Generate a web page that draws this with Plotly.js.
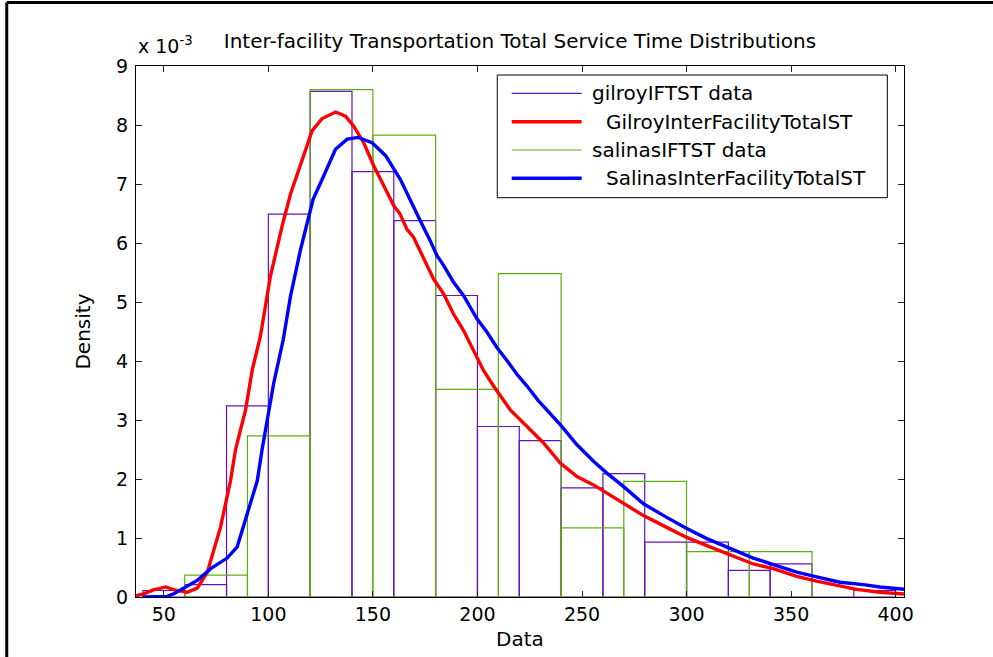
<!DOCTYPE html>
<html>
<head>
<meta charset="utf-8">
<script src="https://cdn.plot.ly/plotly-3.0.1.min.js"></script>
<style>html,body{margin:0;padding:0;background:#fff;}#chart{width:993px;height:657px;}</style>
</head>
<body>
<div id="chart"></div>
<script>
// Histogram bins (density in units of 1e-3)
var gilroyBinCenters = [50,70,90,110,130,150,170,190,210,230,250,270,290,310,330,350,370,390];
var gilroyBinWidth = 20;
var gilroyDensity = [0.11,0.21,3.24,6.49,8.57,7.21,6.38,5.11,2.89,2.65,1.85,2.09,0.93,0.93,0.45,0.56,0,0.11];

var salinasBinCenters = [75,105,135,165,195,225,255,285,315,345];
var salinasBinWidth = 30;
var salinasDensity = [0.37,2.73,8.60,7.83,3.52,5.48,1.17,1.96,0.77,0.77];

// Fitted density curves (units of 1e-3)
var gilroyFitX = [36.7,40,45,50.9,55,61.2,66,70.8,77.1,81.9,84.3,89.1,92.3,96.2,101,106.6,110.6,115.4,120.9,125.7,132.2,136.9,140.8,145.6,150.4,155.2,160,163,166.3,169.4,174.2,179,183.8,188.5,193.3,198.1,202.9,207.6,211,215.7,223.7,231.6,239.6,247.6,255.5,261.9,269.9,279.4,290.5,300.1,309.7,320.8,331.9,341.5,352.7,362.2,373.4,381.3,392.5,404];
var gilroyFitY = [0.02,0.05,0.12,0.17,0.12,0.08,0.15,0.42,1.18,1.97,2.50,3.17,3.85,4.42,5.44,6.29,6.83,7.31,7.90,8.11,8.22,8.15,7.98,7.70,7.31,6.97,6.63,6.49,6.23,6.10,5.76,5.39,5.14,4.80,4.52,4.18,3.84,3.58,3.40,3.17,2.89,2.61,2.27,2.04,1.90,1.76,1.59,1.38,1.18,1.01,0.87,0.72,0.56,0.48,0.35,0.27,0.19,0.13,0.08,0.05];

var salinasFitX = [40,51.7,55,59.6,66,72.4,80.3,85.1,88.3,91.5,94.7,97,102.6,107.1,110.6,115.4,121.4,126.5,132.1,137.7,143,149.6,156.1,163.1,167.8,172.6,177.4,180.6,183.8,188.5,193.3,199.7,204.5,209.3,214.1,218.8,223.6,229.1,239.6,247.6,255.5,261.9,269.9,279.4,290.5,300.1,309.7,320.8,331.9,341.5,352.7,362.2,373.4,384.5,392.5,404];
var salinasFitY = [0.0,0.01,0.06,0.15,0.28,0.48,0.66,0.85,1.24,1.63,1.97,2.50,3.63,4.36,5.10,5.89,6.74,7.14,7.59,7.76,7.79,7.70,7.48,7.08,6.72,6.38,6.04,5.79,5.62,5.34,5.11,4.72,4.49,4.23,4.01,3.78,3.58,3.33,2.92,2.58,2.30,2.10,1.87,1.58,1.35,1.16,0.99,0.82,0.66,0.55,0.42,0.34,0.25,0.21,0.17,0.13];

var xTicks = [50,100,150,200,250,300,350,400];
var yTicks = [0,1,2,3,4,5,6,7,8,9];
var yTickText = ['0','1','2','3','4','5','6','7','8','9'];

var legendNames = ['gilroyIFTST data','GilroyInterFacilityTotalST','salinasIFTST data','SalinasInterFacilityTotalST'];
var colPurple = '#6410c4', colRed = '#ff0000', colGreen = '#5cae0c', colBlue = '#0000ff';

var FONT = 'DejaVu Sans, Arial, sans-serif';

function widths(arr, w){ return arr.map(function(){ return w; }); }

var traces = [
  {type:'bar', x:gilroyBinCenters, y:gilroyDensity, width:widths(gilroyBinCenters,gilroyBinWidth),
   marker:{color:'rgba(0,0,0,0)', line:{color:colPurple, width:1.2}}, name:legendNames[0], showlegend:false, hoverinfo:'x+y'},
  {type:'scatter', mode:'lines', x:gilroyFitX, y:gilroyFitY, line:{color:colRed, width:3.4}, name:legendNames[1], showlegend:false},
  {type:'bar', x:salinasBinCenters, y:salinasDensity, width:widths(salinasBinCenters,salinasBinWidth),
   marker:{color:'rgba(0,0,0,0)', line:{color:colGreen, width:1.2}}, name:legendNames[2], showlegend:false, hoverinfo:'x+y'},
  {type:'scatter', mode:'lines', x:salinasFitX, y:salinasFitY, line:{color:colBlue, width:3.4}, name:legendNames[3], showlegend:false}
];

// Manual legend geometry (paper coordinates)
var lgX0 = 0.4704, lgX1 = 0.9783, lgY0 = 0.752, lgY1 = 0.983;
var rowY = [0.9486, 0.8951, 0.8418, 0.7885];
var sampleX0 = 0.4892, sampleX1 = 0.5803;
var textX = [0.5911, 0.6094, 0.5911, 0.6094];
var sampleCol = [colPurple, colRed, colGreen, colBlue];
var sampleW = [1.2, 3.4, 1.2, 3.4];

var shapes = [
  // figure frame (top and left)
  {type:'line', xref:'paper', yref:'paper', x0:-0.1683, x1:1.13, y0:1.1198, y1:1.1198, line:{color:'#000', width:3}},
  {type:'line', xref:'paper', yref:'paper', x0:-0.1683, x1:-0.1683, y0:1.1198, y1:-0.12, line:{color:'#000', width:3}},
  {type:'rect', xref:'paper', yref:'paper', x0:lgX0, x1:lgX1, y0:lgY0, y1:lgY1, line:{color:'#000', width:1}, fillcolor:'#fff', layer:'above'}
];
var annotations = [
  {xref:'paper', yref:'paper', x:0.0005, y:1.04, xanchor:'left', yanchor:'middle', showarrow:false,
   text:'x 10<sup>-3</sup>', font:{family:FONT, size:19, color:'#000'}}
];
for (var i = 0; i < 4; i++) {
  shapes.push({type:'line', xref:'paper', yref:'paper', x0:sampleX0, x1:sampleX1, y0:rowY[i], y1:rowY[i], line:{color:sampleCol[i], width:sampleW[i]}, layer:'above'});
  annotations.push({xref:'paper', yref:'paper', x:textX[i], y:rowY[i], xanchor:'left', yanchor:'middle', showarrow:false,
    text:legendNames[i], font:{family:FONT, size:20, color:'#000'}});
}

var layout = {
  width:993, height:657,
  margin:{l:136, r:89, t:66, b:60},
  paper_bgcolor:'#fff', plot_bgcolor:'#fff',
  barmode:'overlay', bargap:0,
  showlegend:false,
  font:{family:FONT, size:19, color:'#000'},
  title:{text:'Inter-facility Transportation Total Service Time Distributions', x:0.5, xref:'paper', y:0.937, yref:'container', yanchor:'middle',
         font:{family:FONT, size:20, color:'#000'}},
  xaxis:{range:[36.7,404], tickvals:xTicks, ticks:'inside', ticklen:6, tickcolor:'#222', showline:true, linecolor:'#000', linewidth:1,
         mirror:'ticks', showgrid:false, zeroline:false, ticklabelstandoff:0,
         title:{text:'Data', standoff:8, font:{family:FONT, size:20, color:'#000'}}, tickfont:{family:FONT, size:19, color:'#000'}},
  yaxis:{range:[0,9], tickvals:yTicks, ticktext:yTickText, ticks:'inside', ticklen:6, tickcolor:'#222', showline:true, linecolor:'#000', linewidth:1,
         mirror:'ticks', showgrid:false, zeroline:false, ticklabelstandoff:3,
         title:{text:'Density', standoff:20, font:{family:FONT, size:20, color:'#000'}}, tickfont:{family:FONT, size:19, color:'#000'}},
  shapes:shapes,
  annotations:annotations
};

Plotly.newPlot('chart', traces, layout, {displayModeBar:false, staticPlot:true});
</script>
</body>
</html>
